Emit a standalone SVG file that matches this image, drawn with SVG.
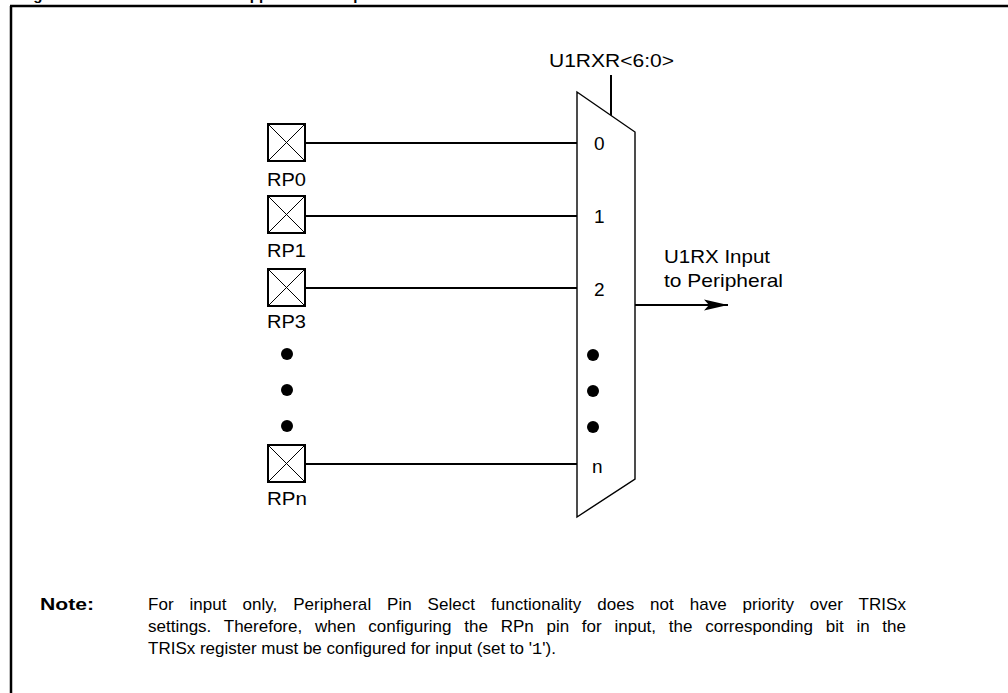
<svg xmlns="http://www.w3.org/2000/svg" width="1008" height="693" viewBox="0 0 1008 693">
<style>
text{font-family:"Liberation Sans",Arial,sans-serif;fill:#000}
.lbl{font-size:19px}
.wire{stroke:#000;stroke-width:2;fill:none}
.pinbox{stroke:#000;stroke-width:2;fill:#fff}
.pinx{stroke:#000;stroke-width:1;fill:none}
.mux{stroke:#000;stroke-width:1.4;fill:#fff}
.dot{fill:#000}
.note{font-size:17px}
</style>
<defs>
<marker id="arr" markerWidth="24" markerHeight="12" refX="24" refY="6" orient="auto" markerUnits="userSpaceOnUse">
<path d="M0,0.5 L24,6 L0,11.5 L5,6 Z" fill="#000"/>
</marker>
<g id="pin">
<rect class="pinbox" x="0" y="0" width="37" height="37"/>
<path class="pinx" d="M0,0 L37,37 M37,0 L0,37"/>
</g>
</defs>
<rect width="1008" height="693" fill="#fff"/>
<text x="20" y="0" font-weight="bold" font-size="15">Figure 10-2:<tspan x="209">Remappable MUX Input for U1RX</tspan></text>
<path d="M10,6 H1008 M11,6 V693" stroke="#000" stroke-width="2.5" fill="none"/>

<g id="connectors">
<line class="wire" x1="305" y1="143" x2="577" y2="143"/>
<line class="wire" x1="305" y1="216" x2="577" y2="216"/>
<line class="wire" x1="305" y1="288" x2="577" y2="288"/>
<line class="wire" x1="305" y1="464" x2="577" y2="464"/>
<line class="wire" x1="611" y1="75" x2="611" y2="117"/>
<line class="wire" x1="635" y1="305" x2="728" y2="305" marker-end="url(#arr)"/>
</g>

<g id="mux">
<polygon class="mux" points="577,92 635,132 635,479 577,517"/>
<text class="lbl" x="549" y="67" textLength="125" lengthAdjust="spacingAndGlyphs">U1RXR&lt;6:0&gt;</text>
<text class="lbl" x="594" y="150">0</text>
<text class="lbl" x="594" y="223">1</text>
<text class="lbl" x="594" y="296">2</text>
<circle class="dot" cx="593" cy="355" r="6"/>
<circle class="dot" cx="593" cy="391" r="6"/>
<circle class="dot" cx="593" cy="427" r="6"/>
<text class="lbl" x="592" y="473">n</text>
</g>

<g id="pin-rp0">
<use href="#pin" x="268" y="124"/>
<text class="lbl" x="267" y="186" textLength="39" lengthAdjust="spacingAndGlyphs">RP0</text>
</g>
<g id="pin-rp1">
<use href="#pin" x="268" y="196"/>
<text class="lbl" x="267" y="257" textLength="39" lengthAdjust="spacingAndGlyphs">RP1</text>
</g>
<g id="pin-rp3">
<use href="#pin" x="268" y="269"/>
<text class="lbl" x="267" y="328" textLength="39" lengthAdjust="spacingAndGlyphs">RP3</text>
</g>
<g id="pin-dots">
<circle class="dot" cx="287" cy="354" r="6"/>
<circle class="dot" cx="287" cy="390" r="6"/>
<circle class="dot" cx="287" cy="426" r="6"/>
</g>
<g id="pin-rpn">
<use href="#pin" x="268" y="445"/>
<text class="lbl" x="267" y="505" textLength="40" lengthAdjust="spacingAndGlyphs">RPn</text>
</g>

<g id="output-label">
<text class="lbl" x="664" y="263" textLength="106" lengthAdjust="spacingAndGlyphs">U1RX Input</text>
<text class="lbl" x="664" y="287" textLength="119" lengthAdjust="spacingAndGlyphs">to Peripheral</text>
</g>

<g id="note">
<text class="note" x="40" y="610" font-weight="bold" textLength="54" lengthAdjust="spacingAndGlyphs">Note:</text>
<text class="note" x="148" y="610" word-spacing="11" textLength="758" lengthAdjust="spacing">For input only, Peripheral Pin Select functionality does not have priority over TRISx</text>
<text class="note" x="148" y="632" word-spacing="8" textLength="758" lengthAdjust="spacing">settings. Therefore, when configuring the RPn pin for input, the corresponding bit in the</text>
<text class="note" x="148" y="654">TRISx register must be configured for input (set to '<tspan font-family="'Liberation Mono','Courier New',monospace">1</tspan>').</text>
</g>
</svg>
